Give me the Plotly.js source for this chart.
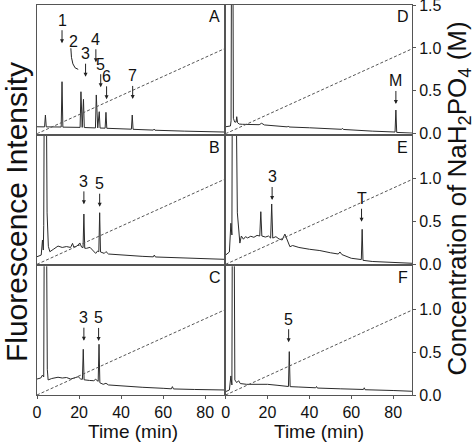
<!DOCTYPE html>
<html>
<head>
<meta charset="utf-8">
<script src="https://cdn.plot.ly/plotly-3.0.1.min.js"></script>
<style>html,body{margin:0;padding:0;background:#fff;}#chart{width:475px;height:444px;}</style>
</head>
<body>
<div id="chart"></div>
<script>
// ---- data (time in min, fluorescence in % of panel height) ----
const timeA  = [0, 3.6, 4.0, 4.4, 11.5, 11.9, 12.3, 20.5, 20.9, 21.5, 22.1, 22.5, 27.8, 28.2, 28.9, 29.6, 30.0, 32.4, 32.8, 33.2, 44.9, 45.3, 45.7, 55.3, 55.7, 56.1, 70, 89];
const fluorA = [5.4, 5.3, 14.5, 5.3, 5.2, 40.4, 5.1, 4.9, 32.6, 4.9, 26.7, 4.8, 4.5, 30.1, 4.5, 17.1, 4.4, 4.3, 16.6, 4.2, 3.5, 14.5, 3.4, 2.8, 3.6, 2.7, 2.0, 1.3];

const timeB  = [0, 2.0, 2.6, 3.0, 3.2, 3.6, 4.2, 4.8, 5.4, 6.1, 8, 10, 12, 14, 16, 16.9, 17.5, 19, 20.4, 21.2, 21.9, 22.3, 22.7, 23.5, 25.2, 26.5, 27.9, 28.8, 29.4, 29.8, 30.2, 32, 32.8, 34, 40, 50, 55.3, 55.8, 56.3, 70, 89];
const fluorB = [5.9, 7.2, 18.9, 11.1, 30, 200, 200, 40, 14, 9.8, 11.9, 14.2, 13.1, 13.8, 13.1, 16.3, 13.4, 14.2, 16.6, 13.4, 13.0, 39.1, 12.5, 12.4, 13.2, 11.1, 8.5, 10.3, 9.8, 40.1, 9.6, 8.5, 9.9, 8.0, 7.2, 6.2, 5.8, 7.2, 5.7, 4.9, 3.9];

const timeC  = [0, 1.8, 2.6, 3.2, 3.6, 4.3, 4.9, 5.3, 7, 10, 12, 14, 16, 18, 19.6, 20.8, 21.6, 22.0, 22.4, 25, 27, 27.9, 28.6, 29.1, 29.5, 29.9, 31.5, 32.8, 34, 40, 50, 60, 63.9, 64.4, 64.9, 75, 89];
const fluorC = [12.4, 13.2, 15.5, 14, 200, 200, 20, 11.7, 12.8, 13.8, 13.2, 13.6, 12.4, 13.2, 14.2, 12.4, 12.2, 35.5, 11.8, 11.3, 11.1, 12.2, 10.9, 10.6, 39.4, 9.5, 8.3, 9.1, 7.8, 7.0, 6.0, 5.2, 4.8, 6.5, 4.7, 4.3, 3.9];

const timeD  = [0, 2.3, 2.6, 2.9, 3.4, 3.7, 4.3, 5.0, 5.3, 5.7, 6.5, 8, 16, 17.2, 18.5, 25, 29.5, 29.9, 30.3, 40, 50, 55.4, 55.8, 56.2, 70, 80.9, 81.3, 81.7, 89];
const fluorD = [5.4, 6.0, 10, 200, 200, 12, 9.1, 9.0, 13.2, 8.5, 7.5, 7.3, 7.0, 8.1, 6.8, 5.8, 5.3, 6.0, 5.2, 4.6, 3.8, 3.4, 4.2, 3.3, 2.0, 1.3, 18.4, 1.0, 0.5];

const timeE  = [0, 1.8, 2.5, 3.0, 3.3, 4.6, 5.6, 6.8, 7.5, 8.5, 9.5, 10.5, 12, 13.5, 15, 16.3, 16.8, 17.3, 19, 20.5, 21.5, 22.0, 22.5, 24, 25.5, 27, 28.3, 29, 30, 30.7, 32, 35, 40, 45, 50, 53.8, 54.6, 55.5, 60, 64.8, 65.2, 65.6, 70, 89];
const fluorE = [7.2, 9.6, 31.9, 22.8, 200, 200, 40, 16.5, 22, 19.5, 21.5, 20.5, 21.8, 21, 22.5, 22, 40.9, 22, 21.2, 22, 20.4, 46.9, 20.4, 21.5, 19.7, 18.9, 23.5, 20.4, 16.6, 13.7, 14.6, 13.1, 11.7, 10.7, 9.0, 8.0, 9.6, 7.6, 4.7, 3.7, 27.2, 3.1, 2.2, 0.8];

const timeF  = [0, 1.8, 2.5, 3.0, 3.3, 3.9, 4.4, 5.3, 6.2, 7, 10, 15, 20, 25, 28, 30.0, 30.4, 30.8, 35, 43.0, 43.4, 43.8, 55, 65.8, 66.2, 66.6, 80, 89];
const fluorF = [2.6, 3.9, 14.8, 7.8, 200, 200, 11.7, 9.6, 11.1, 8.9, 8.3, 8.5, 8.3, 7.5, 7.0, 6.6, 33.7, 6.5, 6.2, 5.6, 6.6, 5.4, 4.8, 4.3, 5.6, 4.1, 3.5, 2.9];

// NaH2PO4 gradient (M)
const gradientTime = [0, 90];
const gradientConc = [0, 1.0];

// tick labels
const timeTicks = [0, 20, 40, 60, 80];
const concTicksTop = [0, 0.5, 1.0, 1.5];
const concTicks = [0, 0.5, 1.0];

// peak labels: text, time of arrow, arrow tip (fluorescence)
const peakLabelsA = ['1', '3', '4', '5', '6', '7'];
const peakTimesA  = [11.9, 23.1, 28.0, 30.3, 33.1, 45.5];
const peakTipsA   = [70.3, 44.3, 55.5, 36.1, 26.7, 27.0];
const peakLabelsB = ['3', '5'];
const peakTimesB  = [22.3, 29.8];
const peakTipsB   = [46.6, 44.8];
const peakLabelsC = ['3', '5'];
const peakTimesC  = [22.3, 29.3];
const peakTipsC   = [42.2, 42.0];
const peakLabelsD = ['M'];
const peakTimesD  = [81.3];
const peakTipsD   = [23.1];
const peakLabelsE = ['3', 'T'];
const peakTimesE  = [22.2, 64.9];
const peakTipsE   = [50.0, 33.1];
const peakLabelsF = ['5'];
const peakTimesF  = [30.1];
const peakTipsF   = [41.0];

const panelNames = ['A', 'B', 'C', 'D', 'E', 'F'];

// ---- build ----
const FONT = 'Liberation Sans, Arial, Helvetica, sans-serif';
const TXT = '#111';
const FRAME = '#555';
const times = [timeA, timeB, timeC, timeD, timeE, timeF];
const fluors = [fluorA, fluorB, fluorC, fluorD, fluorE, fluorF];
const pl = [peakLabelsA, peakLabelsB, peakLabelsC, peakLabelsD, peakLabelsE, peakLabelsF];
const pt = [peakTimesA, peakTimesB, peakTimesC, peakTimesD, peakTimesE, peakTimesF];
const ptip = [peakTipsA, peakTipsB, peakTipsC, peakTipsD, peakTipsE, peakTipsF];
const cols = [0, 0, 0, 1, 1, 1];
const rows = [0, 1, 2, 0, 1, 2];
const colDom = [[0, 0.499], [0.503, 1.0]];
const rowDom = [[0.670, 1.0], [0.3351, 0.6649], [0, 0.330]];

const traces = [];
const layout = {
  width: 475, height: 444,
  margin: {l: 37, r: 63, t: 5, b: 49, pad: 0},
  paper_bgcolor: '#fff', plot_bgcolor: '#fff',
  showlegend: false,
  font: {family: FONT, color: TXT, size: 16},
  annotations: [], shapes: []
};

for (let i = 0; i < 6; i++) {
  const p = i + 1;
  const xa = 'x' + p, ya = 'y' + p, yc = 'y' + (p + 6);
  traces.push({x: times[i], y: fluors[i], xaxis: xa, yaxis: ya, mode: 'lines',
    line: {color: '#2b2b2b', width: 1}, hoverinfo: 'skip'});
  traces.push({x: gradientTime, y: gradientConc, xaxis: xa, yaxis: yc, mode: 'lines',
    line: {color: '#555', width: 1, dash: '3px,2px'}, hoverinfo: 'skip'});
  const bottom = rows[i] === 2;
  layout['xaxis' + p] = {
    domain: colDom[cols[i]], anchor: ya, range: [0, 89],
    showline: true, mirror: true, linecolor: FRAME, linewidth: 1,
    showgrid: false, zeroline: false,
    ticks: bottom ? 'outside' : '', ticklen: 3, tickcolor: FRAME,
    tickvals: timeTicks, showticklabels: bottom,
    tickfont: {size: 16, family: FONT, color: TXT}
  };
  layout['yaxis' + p] = {
    domain: rowDom[rows[i]], anchor: xa, range: [0, 100],
    showline: true, mirror: true, linecolor: FRAME, linewidth: 1,
    showgrid: false, zeroline: false, ticks: '', showticklabels: false
  };
  layout['yaxis' + (p + 6)] = {
    overlaying: ya, anchor: xa, side: 'right', range: [0, 1.5],
    visible: cols[i] === 1, showline: false, showgrid: false, zeroline: false,
    ticks: 'outside', ticklen: 3, tickcolor: FRAME,
    tickvals: rows[i] === 0 ? concTicksTop : concTicks, tickformat: '.1f',
    ticklabeloverflow: 'allow',
    tickfont: {size: 16, family: FONT, color: TXT}
  };
  // panel letter
  layout.annotations.push({xref: xa + ' domain', yref: ya + ' domain', x: 0.95, y: 0.91,
    text: panelNames[i], showarrow: false, xanchor: 'center', yanchor: 'middle',
    font: {size: 16, family: FONT, color: TXT}});
  // peak labels
  for (let k = 0; k < pl[i].length; k++) {
    layout.annotations.push({xref: xa, yref: ya, x: pt[i][k], y: ptip[i][k],
      text: pl[i][k], showarrow: true, ax: 0, ay: -23, arrowhead: 2, arrowsize: 0.8,
      arrowwidth: 1, arrowcolor: '#222', standoff: 0,
      font: {size: 16, family: FONT, color: TXT}});
  }
}

// curved arrow for peak 2 in panel A
layout.annotations.push({xref: 'x1', yref: 'y1', x: 17.5, y: 71.5, text: '2', showarrow: false,
  xanchor: 'center', yanchor: 'middle', font: {size: 16, family: FONT, color: TXT}});
layout.shapes.push({type: 'path', xref: 'x1', yref: 'y1', path: 'M 16.1,66.4 Q 16.3,50.3 19.6,50.0',
  line: {color: '#222', width: 1}});
layout.annotations.push({xref: 'x1', yref: 'y1', x: 20.0, y: 49.3, text: ' ', showarrow: true,
  ax: -4, ay: -2, arrowhead: 2, arrowsize: 0.8, arrowwidth: 1, arrowcolor: '#222'});

// axis titles
layout.annotations.push({xref: 'paper', yref: 'paper', x: -0.056, y: 0.469, text: 'Fluorescence Intensity',
  textangle: -90, showarrow: false, xanchor: 'center', yanchor: 'middle',
  font: {size: 30, family: FONT, color: TXT}});
layout.annotations.push({xref: 'paper', yref: 'paper', x: 1.1227, y: 0.504,
  text: 'Concentration of NaH<sub>2</sub>PO<sub>4</sub> (M)',
  textangle: -90, showarrow: false, xanchor: 'center', yanchor: 'middle',
  font: {size: 26, family: FONT, color: TXT}});
layout.annotations.push({xref: 'paper', yref: 'paper', x: 0.2547, y: -0.094, text: 'Time (min)',
  showarrow: false, xanchor: 'center', yanchor: 'middle', font: {size: 19, family: FONT, color: TXT}});
layout.annotations.push({xref: 'paper', yref: 'paper', x: 0.7509, y: -0.094, text: 'Time (min)',
  showarrow: false, xanchor: 'center', yanchor: 'middle', font: {size: 19, family: FONT, color: TXT}});

Plotly.newPlot('chart', traces, layout, {staticPlot: true, displayModeBar: false});
</script>
</body>
</html>
